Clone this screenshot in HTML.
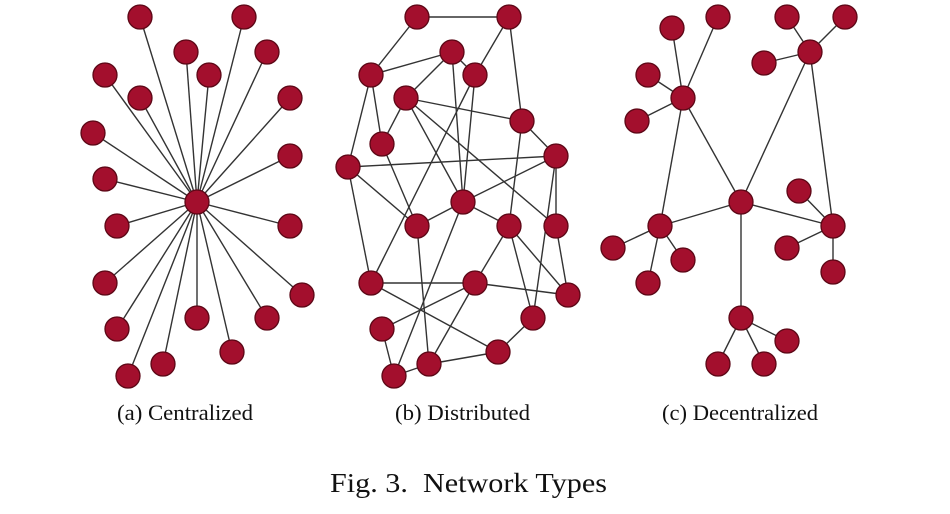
<!DOCTYPE html>
<html>
<head>
<meta charset="utf-8">
<style>
html,body{margin:0;padding:0;background:#fff;}
svg{display:block;}
</style>
</head>
<body>
<svg width="950" height="514" viewBox="0 0 950 514" xmlns="http://www.w3.org/2000/svg">
<rect width="950" height="514" fill="#fff"/>
<g stroke="#333" stroke-width="1.4" fill="none">
<line x1="197" y1="202" x2="140" y2="17"/>
<line x1="197" y1="202" x2="244" y2="17"/>
<line x1="197" y1="202" x2="186" y2="52"/>
<line x1="197" y1="202" x2="267" y2="52"/>
<line x1="197" y1="202" x2="105" y2="75"/>
<line x1="197" y1="202" x2="209" y2="75"/>
<line x1="197" y1="202" x2="140" y2="98"/>
<line x1="197" y1="202" x2="290" y2="98"/>
<line x1="197" y1="202" x2="93" y2="133"/>
<line x1="197" y1="202" x2="290" y2="156"/>
<line x1="197" y1="202" x2="105" y2="179"/>
<line x1="197" y1="202" x2="117" y2="226"/>
<line x1="197" y1="202" x2="290" y2="226"/>
<line x1="197" y1="202" x2="105" y2="283"/>
<line x1="197" y1="202" x2="302" y2="295"/>
<line x1="197" y1="202" x2="117" y2="329"/>
<line x1="197" y1="202" x2="197" y2="318"/>
<line x1="197" y1="202" x2="267" y2="318"/>
<line x1="197" y1="202" x2="232" y2="352"/>
<line x1="197" y1="202" x2="163" y2="364"/>
<line x1="197" y1="202" x2="128" y2="376"/>
<line x1="417" y1="17" x2="509" y2="17"/>
<line x1="417" y1="17" x2="371" y2="75"/>
<line x1="509" y1="17" x2="475" y2="75"/>
<line x1="509" y1="17" x2="522" y2="121"/>
<line x1="452" y1="52" x2="371" y2="75"/>
<line x1="452" y1="52" x2="475" y2="75"/>
<line x1="452" y1="52" x2="406" y2="98"/>
<line x1="452" y1="52" x2="463" y2="202"/>
<line x1="475" y1="75" x2="463" y2="202"/>
<line x1="475" y1="75" x2="371" y2="283"/>
<line x1="371" y1="75" x2="382" y2="144"/>
<line x1="371" y1="75" x2="348" y2="167"/>
<line x1="406" y1="98" x2="382" y2="144"/>
<line x1="406" y1="98" x2="522" y2="121"/>
<line x1="406" y1="98" x2="463" y2="202"/>
<line x1="406" y1="98" x2="556" y2="226"/>
<line x1="522" y1="121" x2="556" y2="156"/>
<line x1="522" y1="121" x2="509" y2="226"/>
<line x1="382" y1="144" x2="417" y2="226"/>
<line x1="348" y1="167" x2="556" y2="156"/>
<line x1="348" y1="167" x2="417" y2="226"/>
<line x1="348" y1="167" x2="371" y2="283"/>
<line x1="463" y1="202" x2="417" y2="226"/>
<line x1="463" y1="202" x2="556" y2="156"/>
<line x1="463" y1="202" x2="509" y2="226"/>
<line x1="463" y1="202" x2="394" y2="376"/>
<line x1="556" y1="156" x2="556" y2="226"/>
<line x1="556" y1="156" x2="533" y2="318"/>
<line x1="417" y1="226" x2="429" y2="364"/>
<line x1="509" y1="226" x2="475" y2="283"/>
<line x1="509" y1="226" x2="533" y2="318"/>
<line x1="509" y1="226" x2="568" y2="295"/>
<line x1="556" y1="226" x2="568" y2="295"/>
<line x1="371" y1="283" x2="475" y2="283"/>
<line x1="371" y1="283" x2="498" y2="352"/>
<line x1="475" y1="283" x2="382" y2="329"/>
<line x1="475" y1="283" x2="429" y2="364"/>
<line x1="475" y1="283" x2="568" y2="295"/>
<line x1="533" y1="318" x2="498" y2="352"/>
<line x1="498" y1="352" x2="429" y2="364"/>
<line x1="429" y1="364" x2="394" y2="376"/>
<line x1="382" y1="329" x2="394" y2="376"/>
<line x1="683" y1="98" x2="672" y2="28"/>
<line x1="683" y1="98" x2="718" y2="17"/>
<line x1="683" y1="98" x2="648" y2="75"/>
<line x1="683" y1="98" x2="637" y2="121"/>
<line x1="683" y1="98" x2="741" y2="202"/>
<line x1="683" y1="98" x2="660" y2="226"/>
<line x1="810" y1="52" x2="787" y2="17"/>
<line x1="810" y1="52" x2="845" y2="17"/>
<line x1="810" y1="52" x2="764" y2="63"/>
<line x1="810" y1="52" x2="741" y2="202"/>
<line x1="810" y1="52" x2="833" y2="226"/>
<line x1="741" y1="202" x2="660" y2="226"/>
<line x1="741" y1="202" x2="833" y2="226"/>
<line x1="741" y1="202" x2="741" y2="318"/>
<line x1="660" y1="226" x2="613" y2="248"/>
<line x1="660" y1="226" x2="683" y2="260"/>
<line x1="660" y1="226" x2="648" y2="283"/>
<line x1="833" y1="226" x2="799" y2="191"/>
<line x1="833" y1="226" x2="787" y2="248"/>
<line x1="833" y1="226" x2="833" y2="272"/>
<line x1="741" y1="318" x2="787" y2="341"/>
<line x1="741" y1="318" x2="718" y2="364"/>
<line x1="741" y1="318" x2="764" y2="364"/>
</g>
<g fill="#a30f2d" stroke="#5c0716" stroke-width="1.3">
<circle cx="197" cy="202" r="12"/>
<circle cx="140" cy="17" r="12"/>
<circle cx="244" cy="17" r="12"/>
<circle cx="186" cy="52" r="12"/>
<circle cx="267" cy="52" r="12"/>
<circle cx="105" cy="75" r="12"/>
<circle cx="209" cy="75" r="12"/>
<circle cx="140" cy="98" r="12"/>
<circle cx="290" cy="98" r="12"/>
<circle cx="93" cy="133" r="12"/>
<circle cx="290" cy="156" r="12"/>
<circle cx="105" cy="179" r="12"/>
<circle cx="117" cy="226" r="12"/>
<circle cx="290" cy="226" r="12"/>
<circle cx="105" cy="283" r="12"/>
<circle cx="302" cy="295" r="12"/>
<circle cx="117" cy="329" r="12"/>
<circle cx="197" cy="318" r="12"/>
<circle cx="267" cy="318" r="12"/>
<circle cx="232" cy="352" r="12"/>
<circle cx="163" cy="364" r="12"/>
<circle cx="128" cy="376" r="12"/>
<circle cx="417" cy="17" r="12"/>
<circle cx="509" cy="17" r="12"/>
<circle cx="452" cy="52" r="12"/>
<circle cx="371" cy="75" r="12"/>
<circle cx="475" cy="75" r="12"/>
<circle cx="406" cy="98" r="12"/>
<circle cx="522" cy="121" r="12"/>
<circle cx="382" cy="144" r="12"/>
<circle cx="556" cy="156" r="12"/>
<circle cx="348" cy="167" r="12"/>
<circle cx="463" cy="202" r="12"/>
<circle cx="417" cy="226" r="12"/>
<circle cx="509" cy="226" r="12"/>
<circle cx="556" cy="226" r="12"/>
<circle cx="371" cy="283" r="12"/>
<circle cx="475" cy="283" r="12"/>
<circle cx="568" cy="295" r="12"/>
<circle cx="533" cy="318" r="12"/>
<circle cx="382" cy="329" r="12"/>
<circle cx="498" cy="352" r="12"/>
<circle cx="429" cy="364" r="12"/>
<circle cx="394" cy="376" r="12"/>
<circle cx="672" cy="28" r="12"/>
<circle cx="718" cy="17" r="12"/>
<circle cx="787" cy="17" r="12"/>
<circle cx="845" cy="17" r="12"/>
<circle cx="810" cy="52" r="12"/>
<circle cx="764" cy="63" r="12"/>
<circle cx="648" cy="75" r="12"/>
<circle cx="683" cy="98" r="12"/>
<circle cx="637" cy="121" r="12"/>
<circle cx="799" cy="191" r="12"/>
<circle cx="741" cy="202" r="12"/>
<circle cx="660" cy="226" r="12"/>
<circle cx="833" cy="226" r="12"/>
<circle cx="613" cy="248" r="12"/>
<circle cx="683" cy="260" r="12"/>
<circle cx="787" cy="248" r="12"/>
<circle cx="648" cy="283" r="12"/>
<circle cx="833" cy="272" r="12"/>
<circle cx="741" cy="318" r="12"/>
<circle cx="787" cy="341" r="12"/>
<circle cx="718" cy="364" r="12"/>
<circle cx="764" cy="364" r="12"/>
</g>
<g font-family="'Liberation Serif', serif" fill="#111">
<text x="117" y="420" font-size="22" textLength="136" lengthAdjust="spacingAndGlyphs">(a) Centralized</text>
<text x="395" y="420" font-size="22" textLength="135" lengthAdjust="spacingAndGlyphs">(b) Distributed</text>
<text x="662" y="420" font-size="22" textLength="156" lengthAdjust="spacingAndGlyphs">(c) Decentralized</text>
<text x="330" y="492" font-size="27" textLength="277" lengthAdjust="spacingAndGlyphs" xml:space="preserve">Fig. 3.  Network Types</text>
</g>
</svg>
</body>
</html>
